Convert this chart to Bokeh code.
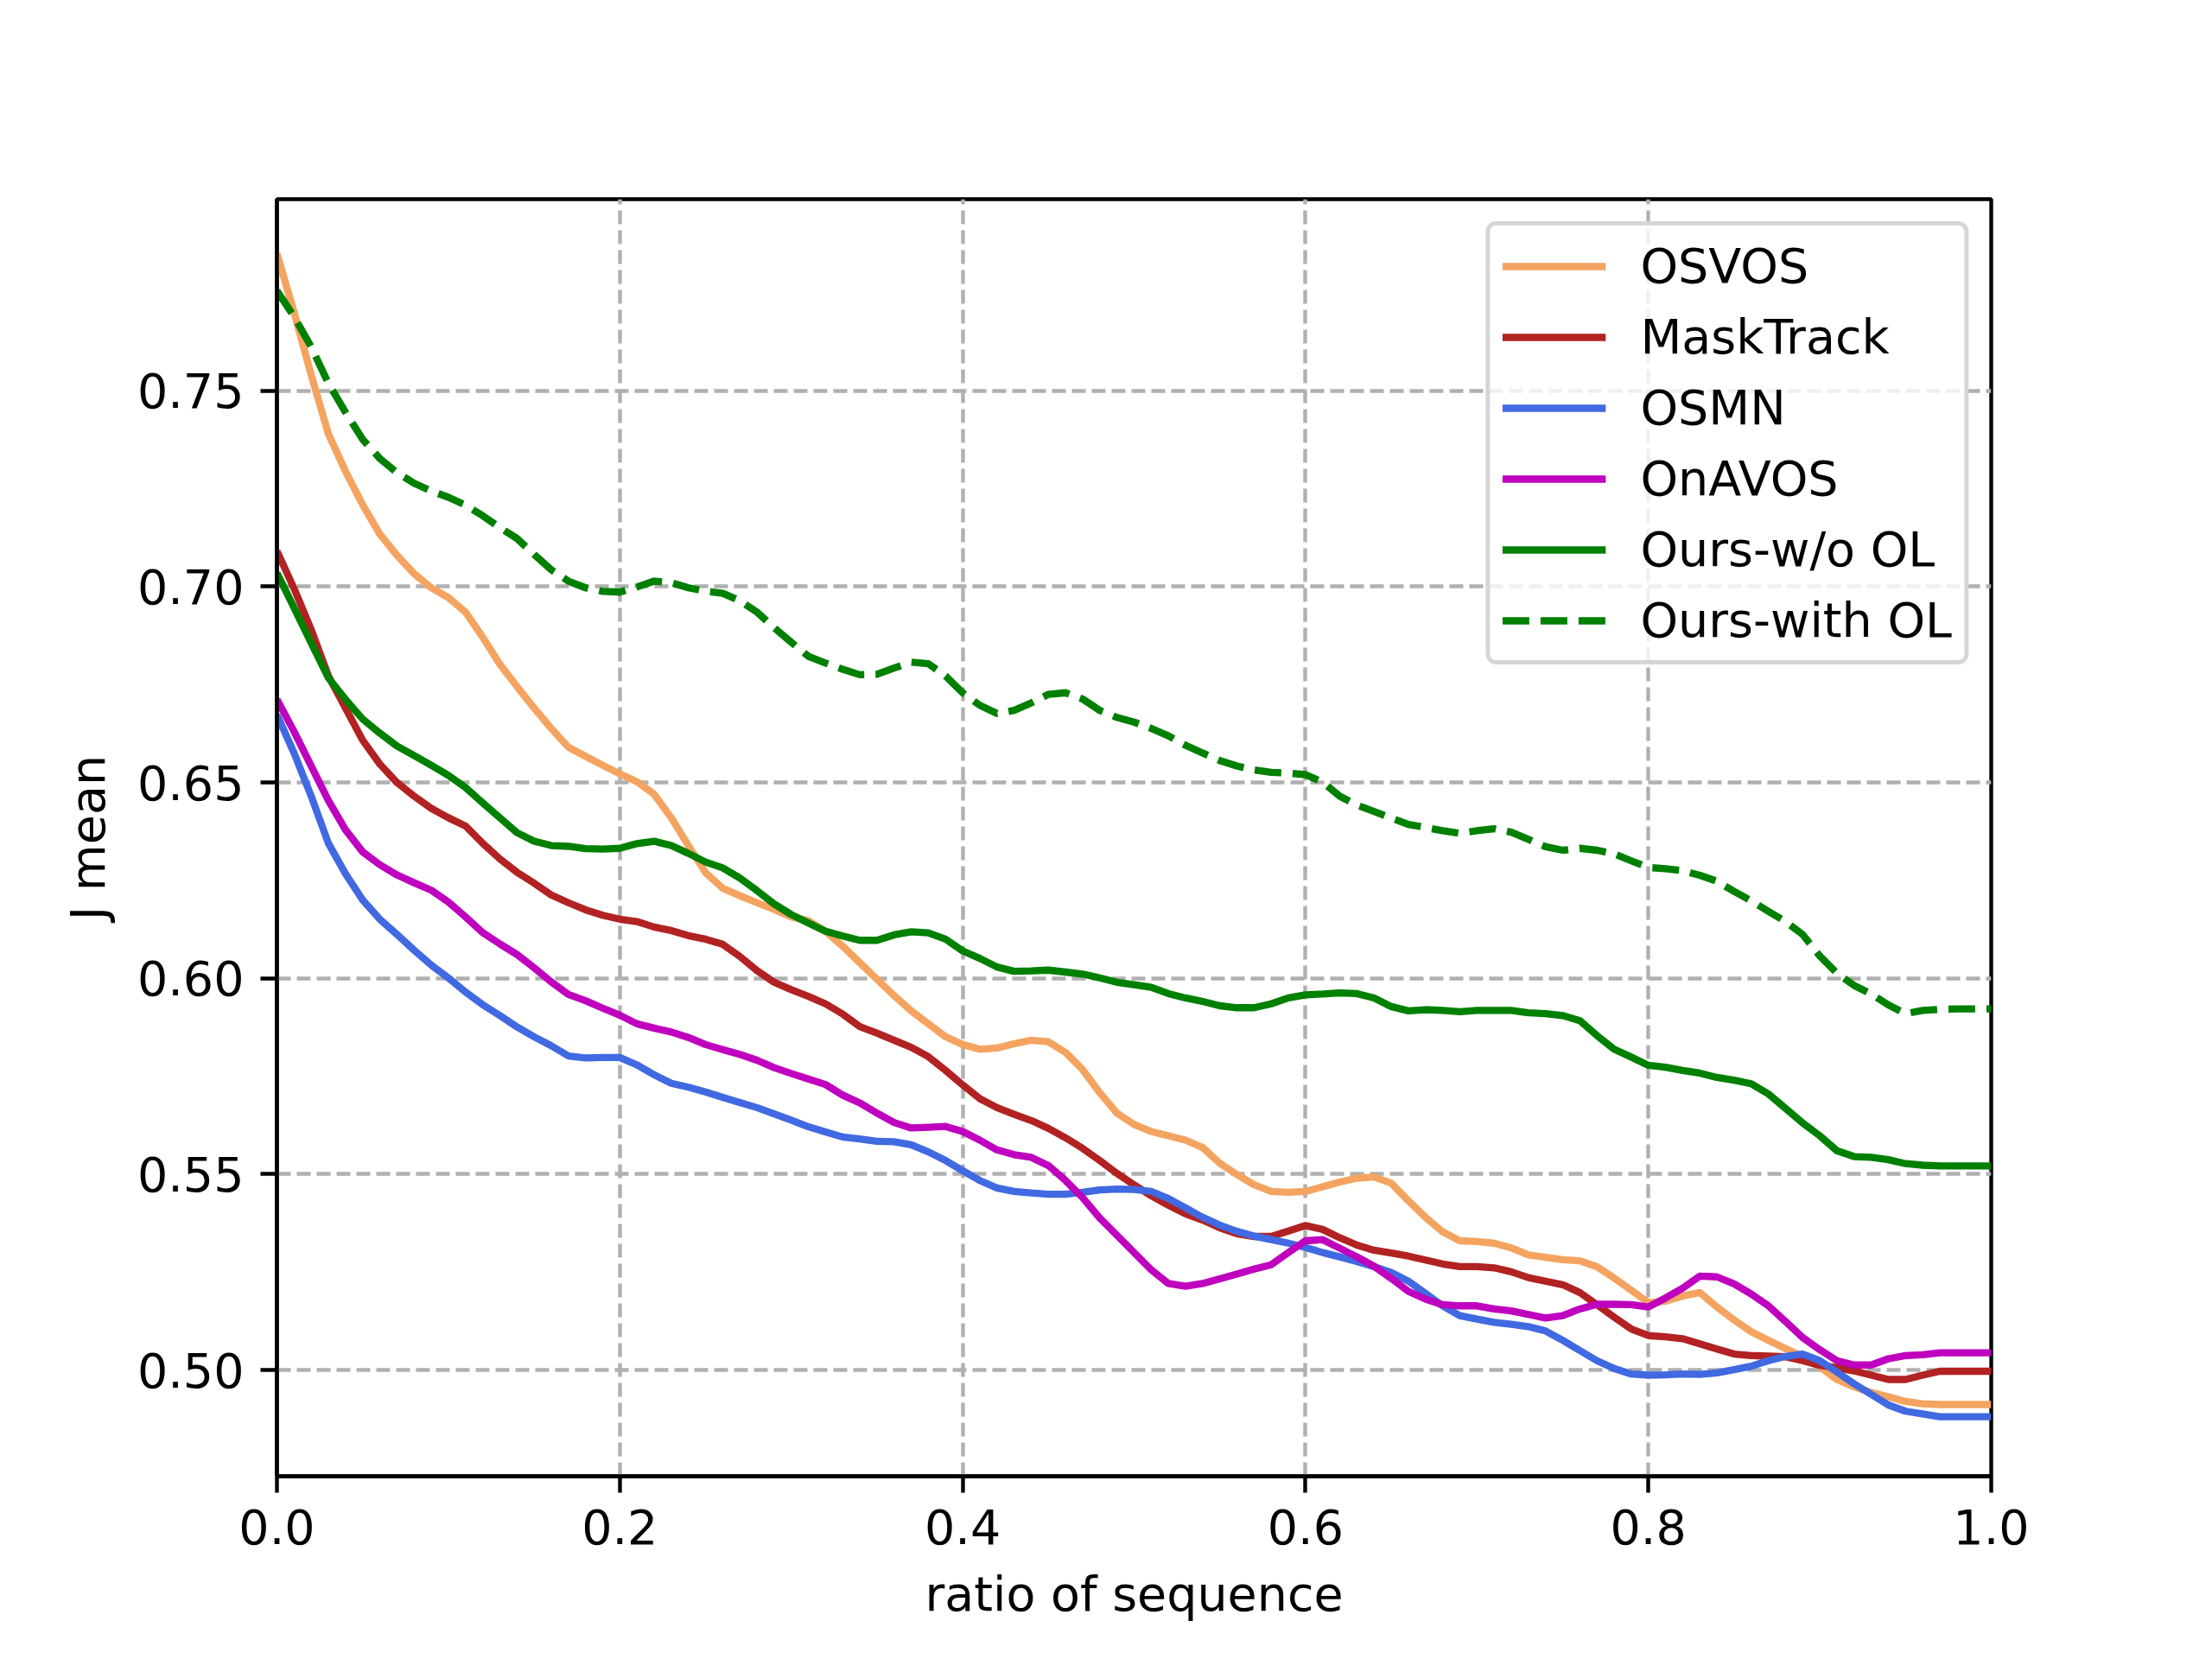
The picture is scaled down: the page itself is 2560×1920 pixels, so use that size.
import numpy as np
from bokeh.plotting import figure
from bokeh.models import Range1d, FixedTicker, PrintfTickFormatter, Legend
from bokeh.embed import file_html
from bokeh.resources import INLINE

ratio = np.linspace(0.0, 1.0, 101)

osvos = [0.785, 0.770, 0.754, 0.739, 0.7294, 0.7209, 0.7134, 0.7080, 0.7033, 0.6997,
         0.6972, 0.6935, 0.6871, 0.6802, 0.6745, 0.6690, 0.6638, 0.6590, 0.6567, 0.6544,
         0.6522, 0.6502, 0.6470, 0.6410, 0.6339, 0.6270, 0.6230, 0.6211, 0.6193, 0.6176,
         0.6157, 0.6147, 0.6120, 0.6082, 0.6040, 0.5998, 0.5956, 0.5917, 0.5884, 0.5851,
         0.5831, 0.5819, 0.5822, 0.5833, 0.5842, 0.5838, 0.5811, 0.5767, 0.5708, 0.5656,
         0.5627, 0.5609, 0.5598, 0.5587, 0.5568, 0.5528, 0.5499, 0.5473, 0.5456, 0.5454,
         0.5456, 0.5468, 0.5480, 0.5490, 0.5493, 0.5477, 0.5432, 0.5390, 0.5353, 0.5330,
         0.5328, 0.5324, 0.5312, 0.5294, 0.5288, 0.5282, 0.5279, 0.5264, 0.5235, 0.5204,
         0.5172, 0.5176, 0.5189, 0.5198, 0.5161, 0.5128, 0.5098, 0.5076, 0.5055, 0.5035,
         0.5008, 0.4976, 0.4957, 0.4943, 0.4932, 0.4920, 0.4914, 0.4912, 0.4912, 0.4912,
         0.4912]

masktrack = [0.7091, 0.6995, 0.6890, 0.6772, 0.6690, 0.6608, 0.6547, 0.6500, 0.6465, 0.6434,
             0.6410, 0.6389, 0.6345, 0.6305, 0.6271, 0.6243, 0.6213, 0.6193, 0.6175, 0.6161,
             0.6151, 0.6145, 0.6131, 0.6122, 0.6109, 0.6100, 0.6087, 0.6056, 0.6020, 0.5990,
             0.5971, 0.5954, 0.5935, 0.5909, 0.5877, 0.5860, 0.5842, 0.5824, 0.5800, 0.5765,
             0.5728, 0.5693, 0.5670, 0.5653, 0.5637, 0.5617, 0.5593, 0.5566, 0.5535, 0.5502,
             0.5473, 0.5445, 0.5421, 0.5399, 0.5383, 0.5363, 0.5348, 0.5341, 0.5341, 0.5355,
             0.5369, 0.5359, 0.5338, 0.5319, 0.5306, 0.5299, 0.5291, 0.5281, 0.5271, 0.5264,
             0.5264, 0.5261, 0.5251, 0.5236, 0.5227, 0.5218, 0.5198, 0.5167, 0.5135, 0.5105,
             0.5088, 0.5085, 0.5080, 0.5067, 0.5054, 0.5041, 0.5037, 0.5036, 0.5034, 0.5024,
             0.5012, 0.5006, 0.4998, 0.4987, 0.4976, 0.4976, 0.4987, 0.4997, 0.4997, 0.4997,
             0.4997]

osmn = [0.6673, 0.6575, 0.6465, 0.6345, 0.6267, 0.6200, 0.6151, 0.6112, 0.6072, 0.6034,
        0.6001, 0.5965, 0.5933, 0.5905, 0.5876, 0.5851, 0.5828, 0.5802, 0.5797, 0.5798,
        0.5798, 0.5779, 0.5754, 0.5732, 0.5722, 0.5710, 0.5696, 0.5683, 0.5670, 0.5654,
        0.5638, 0.5621, 0.5608, 0.5595, 0.5590, 0.5584, 0.5583, 0.5575, 0.5557, 0.5535,
        0.5509, 0.5484, 0.5465, 0.5456, 0.5452, 0.5449, 0.5449, 0.5454, 0.5460, 0.5462,
        0.5461, 0.5456, 0.5438, 0.5414, 0.5390, 0.5370, 0.5354, 0.5342, 0.5333, 0.5324,
        0.5313, 0.5300, 0.5289, 0.5277, 0.5264, 0.5249, 0.5227, 0.5196, 0.5164, 0.5139,
        0.5130, 0.5122, 0.5117, 0.5111, 0.5100, 0.5076, 0.5050, 0.5024, 0.5004, 0.4990,
        0.4987, 0.4988, 0.4990, 0.4989, 0.4993, 0.5001, 0.5010, 0.5024, 0.5035, 0.5041,
        0.5024, 0.4995, 0.4965, 0.4938, 0.4911, 0.4895, 0.4888, 0.4881, 0.4881, 0.4881,
        0.4881]

onavos = [0.6712, 0.6630, 0.6542, 0.6454, 0.6379, 0.6323, 0.6290, 0.6264, 0.6244, 0.6225,
          0.6195, 0.6157, 0.6117, 0.6088, 0.6061, 0.6027, 0.5991, 0.5959, 0.5943, 0.5924,
          0.5906, 0.5884, 0.5873, 0.5863, 0.5849, 0.5831, 0.5818, 0.5806, 0.5791, 0.5772,
          0.5757, 0.5743, 0.5729, 0.5702, 0.5682, 0.5656, 0.5632, 0.5618, 0.5620, 0.5622,
          0.5609, 0.5587, 0.5562, 0.5550, 0.5543, 0.5522, 0.5484, 0.5440, 0.5388, 0.5344,
          0.5300, 0.5256, 0.5221, 0.5214, 0.5221, 0.5233, 0.5245, 0.5258, 0.5269, 0.5300,
          0.5330, 0.5333, 0.5311, 0.5289, 0.5265, 0.5234, 0.5201, 0.5181, 0.5167, 0.5164,
          0.5164, 0.5156, 0.5151, 0.5142, 0.5133, 0.5139, 0.5156, 0.5168, 0.5168, 0.5167,
          0.5161, 0.5184, 0.5209, 0.5240, 0.5238, 0.5220, 0.5194, 0.5164, 0.5124, 0.5083,
          0.5052, 0.5024, 0.5013, 0.5013, 0.5029, 0.5037, 0.5039, 0.5044, 0.5044, 0.5044,
          0.5044]

ours_wo_ol = [0.7035, 0.6946, 0.6856, 0.6767, 0.6712, 0.6662, 0.6626, 0.6593, 0.6569, 0.6544,
              0.6518, 0.6487, 0.6448, 0.6410, 0.6372, 0.6350, 0.6339, 0.6337, 0.6331, 0.6330,
              0.6332, 0.6344, 0.6350, 0.6339, 0.6319, 0.6297, 0.6282, 0.6256, 0.6224, 0.6190,
              0.6163, 0.6141, 0.6120, 0.6108, 0.6097, 0.6097, 0.6111, 0.6119, 0.6116, 0.6100,
              0.6070, 0.6051, 0.6029, 0.6018, 0.6019, 0.6021, 0.6016, 0.6011, 0.6001, 0.5990,
              0.5984, 0.5977, 0.5961, 0.5950, 0.5941, 0.5930, 0.5925, 0.5925, 0.5935, 0.5950,
              0.5958, 0.5960, 0.5963, 0.5961, 0.5950, 0.5928, 0.5917, 0.5920, 0.5918, 0.5915,
              0.5918, 0.5918, 0.5918, 0.5912, 0.5910, 0.5905, 0.5892, 0.5854, 0.5819, 0.5799,
              0.5778, 0.5773, 0.5765, 0.5758, 0.5747, 0.5740, 0.5731, 0.5705, 0.5668, 0.5631,
              0.5598, 0.5560, 0.5545, 0.5543, 0.5537, 0.5527, 0.5523, 0.5521, 0.5521, 0.5521,
              0.5521]

ours_with_ol = [0.7755, 0.7689, 0.7612, 0.7519, 0.7445, 0.7376, 0.7327, 0.7291, 0.7264, 0.7244,
                0.7228, 0.7208, 0.7181, 0.7151, 0.7123, 0.7082, 0.7043, 0.7014, 0.6997, 0.6988,
                0.6986, 0.6999, 0.7014, 0.7010, 0.6997, 0.6988, 0.6983, 0.6964, 0.6935, 0.6895,
                0.6858, 0.6822, 0.6805, 0.6789, 0.6775, 0.6776, 0.6792, 0.6807, 0.6803, 0.6772,
                0.6729, 0.6697, 0.6676, 0.6684, 0.6703, 0.6725, 0.6729, 0.6713, 0.6684, 0.6666,
                0.6654, 0.6638, 0.6619, 0.6595, 0.6575, 0.6556, 0.6542, 0.6532, 0.6526, 0.6524,
                0.6520, 0.6501, 0.6465, 0.6442, 0.6426, 0.6409, 0.6393, 0.6385, 0.6377, 0.6370,
                0.6377, 0.6382, 0.6373, 0.6355, 0.6336, 0.6327, 0.6332, 0.6327, 0.6318, 0.6300,
                0.6283, 0.6280, 0.6275, 0.6263, 0.6248, 0.6222, 0.6198, 0.6171, 0.6145, 0.6112,
                0.6057, 0.6013, 0.5982, 0.5960, 0.5932, 0.5910, 0.5918, 0.5921, 0.5922, 0.5922,
                0.5922]

series_names = ["OSVOS", "MaskTrack", "OSMN", "OnAVOS", "Ours-w/o OL", "Ours-with OL"]
series_values = [osvos, masktrack, osmn, onavos, ours_wo_ol, ours_with_ol]
series_colors = ["#F4A460", "#B22222", "#4169E1", "#BF00BF", "#008000", "#008000"]
series_dashes = ["solid", "solid", "solid", "solid", "solid", "31 13"]

x_ticks = [0.0, 0.2, 0.4, 0.6, 0.8, 1.0]
y_ticks = [0.50, 0.55, 0.60, 0.65, 0.70, 0.75]

FONT = "DejaVu Sans"
FS = "55.5px"
LW = 8.33
THIN = 4.4

p = figure(frame_width=1984, frame_height=1478,
           min_border_left=320, min_border_right=240,
           min_border_top=230, min_border_bottom=194,
           x_range=Range1d(0.0, 1.0), y_range=Range1d(0.4729, 0.7989),
           output_backend="svg", toolbar_location=None,
           background_fill_color="white", border_fill_color="white")

for name, vals, col, dash in zip(series_names, series_values, series_colors, series_dashes):
    p.line(ratio, vals, line_color=col, line_width=LW, line_dash=dash,
           legend_label=name, line_join="round", line_cap="butt")

for ax, ticks, fmt in ((p.xaxis[0], x_ticks, "%.1f"), (p.yaxis[0], y_ticks, "%.2f")):
    ax.ticker = FixedTicker(ticks=ticks)
    ax.formatter = PrintfTickFormatter(format=fmt)
    ax.axis_line_width = THIN
    ax.axis_line_color = "black"
    ax.major_tick_line_width = THIN
    ax.major_tick_line_color = "black"
    ax.major_tick_out = 19
    ax.major_tick_in = 0
    ax.minor_tick_line_color = None
    ax.major_label_standoff = 19
    ax.major_label_text_font = FONT
    ax.major_label_text_font_size = FS
    ax.major_label_text_color = "black"
    ax.axis_label_text_font = FONT
    ax.axis_label_text_font_size = FS
    ax.axis_label_text_font_style = "normal"
    ax.axis_label_text_color = "black"
    ax.axis_label_standoff = 22

p.xaxis.axis_label = "ratio of sequence"
p.yaxis.axis_label = "J mean"

for g in (p.xgrid[0], p.ygrid[0]):
    g.grid_line_color = "#b0b0b0"
    g.grid_line_width = THIN
    g.grid_line_dash = "16 7"

p.outline_line_color = "black"
p.outline_line_width = THIN

lg = p.legend[0]
lg.location = "top_right"
lg.margin = 26
lg.padding = 14
lg.spacing = 17
lg.glyph_width = 120
lg.glyph_height = 60
lg.label_height = 60
lg.label_standoff = 40
lg.label_text_font = FONT
lg.label_text_font_size = FS
lg.label_text_color = "black"
lg.border_line_color = "#cccccc"
lg.border_line_alpha = 0.8
lg.border_line_width = 5.5
lg.background_fill_color = "white"
lg.background_fill_alpha = 0.8
if "border_radius" in Legend.properties():
    lg.border_radius = 12

with open("out.html", "w") as f:
    f.write(file_html(p, INLINE))
